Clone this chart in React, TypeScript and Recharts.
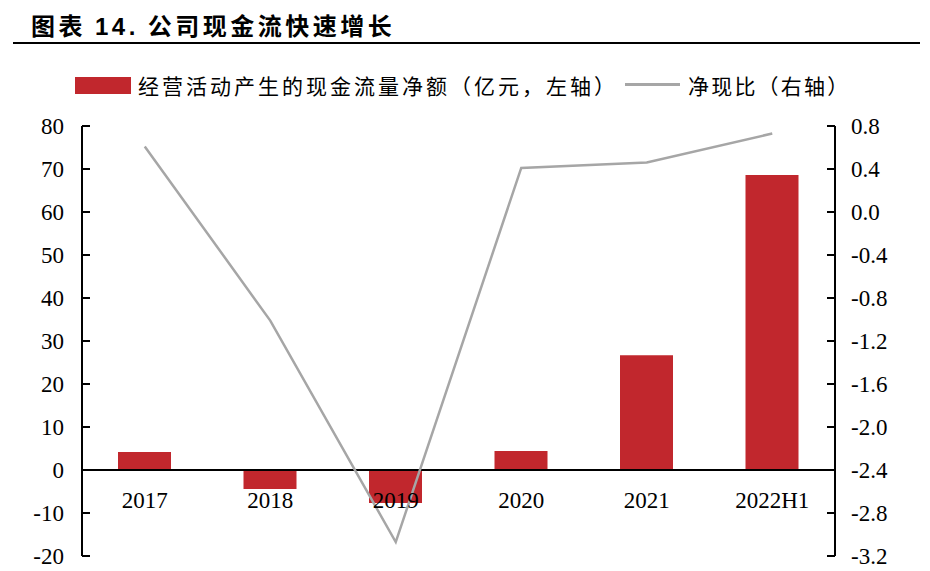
import { ComposedChart, Bar, Line, XAxis, YAxis, ReferenceLine } from 'recharts'

const years = ['2017', '2018', '2019', '2020', '2021', '2022H1']
const cashFlow = [4.2, -4.4, -7.7, 4.4, 26.7, 68.6]
const ratio = [0.61, -1.01, -3.07, 0.41, 0.46, 0.73]
const leftTicks = [-20, -10, 0, 10, 20, 30, 40, 50, 60, 70, 80]
const rightTicks = [-3.2, -2.8, -2.4, -2.0, -1.6, -1.2, -0.8, -0.4, 0.0, 0.4, 0.8]

const data = years.map((year, i) => ({ year, cash: cashFlow[i], ratio: ratio[i] }))

const BAR = '#C1272D'
const LINE = '#A6A6A6'
const NUM_FONT = 'Liberation Serif'
const CJK_FONT = "'Noto Sans CJK SC', sans-serif"
const axisTick = { fill: '#000', fontSize: 23, fontFamily: NUM_FONT }

function YearTick({ x, y, payload }: any) {
  return (
    <text x={x} y={y - 56} textAnchor="middle" dy="0.35em" fontFamily={NUM_FONT} fontSize={23} fill="#000">
      {payload.value}
    </text>
  )
}

export default function App() {
  return (
    <div style={{ position: 'absolute', left: 0, top: 0, width: 930, height: 571, background: '#fff' }}>
      <div style={{ position: 'absolute', left: 31, top: 9, fontFamily: CJK_FONT, fontWeight: 700, fontSize: 24, letterSpacing: 3.5, lineHeight: '32px', whiteSpace: 'nowrap' }}>
        图表 <span style={{ fontFamily: "'Liberation Sans', Arial, sans-serif" }}>14.</span> 公司现金流快速增长
      </div>
      <div style={{ position: 'absolute', left: 13, top: 42, width: 907, height: 2, background: '#000' }} />

      <div style={{ position: 'absolute', left: 75, top: 77, width: 56, height: 17, background: BAR }} />
      <div style={{ position: 'absolute', left: 138, top: 70, fontFamily: CJK_FONT, fontSize: 21, letterSpacing: 3, lineHeight: '30px', whiteSpace: 'nowrap' }}>
        经营活动产生的现金流量净额（亿元，左轴）
      </div>
      <div style={{ position: 'absolute', left: 625, top: 83, width: 55, height: 3, background: LINE }} />
      <div style={{ position: 'absolute', left: 688, top: 70, fontFamily: CJK_FONT, fontSize: 21, letterSpacing: 2.2, lineHeight: '30px', whiteSpace: 'nowrap' }}>
        净现比（右轴）
      </div>

      <ComposedChart width={930} height={571} data={data} margin={{ top: 126, right: 35, bottom: 0, left: 22 }}>
        <XAxis dataKey="year" height={15} axisLine={false} tickLine={false} tickSize={0} tickMargin={0} tick={(p: any) => <YearTick {...p} />} interval={0} />
        <YAxis
          yAxisId="left"
          orientation="left"
          width={60}
          domain={[-20, 80]}
          ticks={leftTicks}
          interval={0}
          axisLine={{ stroke: '#000', strokeWidth: 2 }}
          tickLine={{ stroke: '#000', strokeWidth: 2 }}
          tickSize={-8}
          tickMargin={26}
          tick={axisTick}
        />
        <YAxis
          yAxisId="right"
          orientation="right"
          width={60}
          domain={[-3.2, 0.8]}
          ticks={rightTicks}
          interval={0}
          axisLine={{ stroke: '#000', strokeWidth: 2 }}
          tickLine={{ stroke: '#000', strokeWidth: 2 }}
          tickSize={-8}
          tickMargin={24}
          tick={axisTick}
          tickFormatter={(v: number) => v.toFixed(1)}
        />
        <Bar yAxisId="left" dataKey="cash" fill={BAR} barSize={53} isAnimationActive={false} />
        <ReferenceLine yAxisId="left" y={0} stroke="#000" strokeWidth={2} />
        <Line yAxisId="right" dataKey="ratio" type="linear" stroke={LINE} strokeWidth={2.5} dot={false} activeDot={false} isAnimationActive={false} />
      </ComposedChart>
    </div>
  )
}
